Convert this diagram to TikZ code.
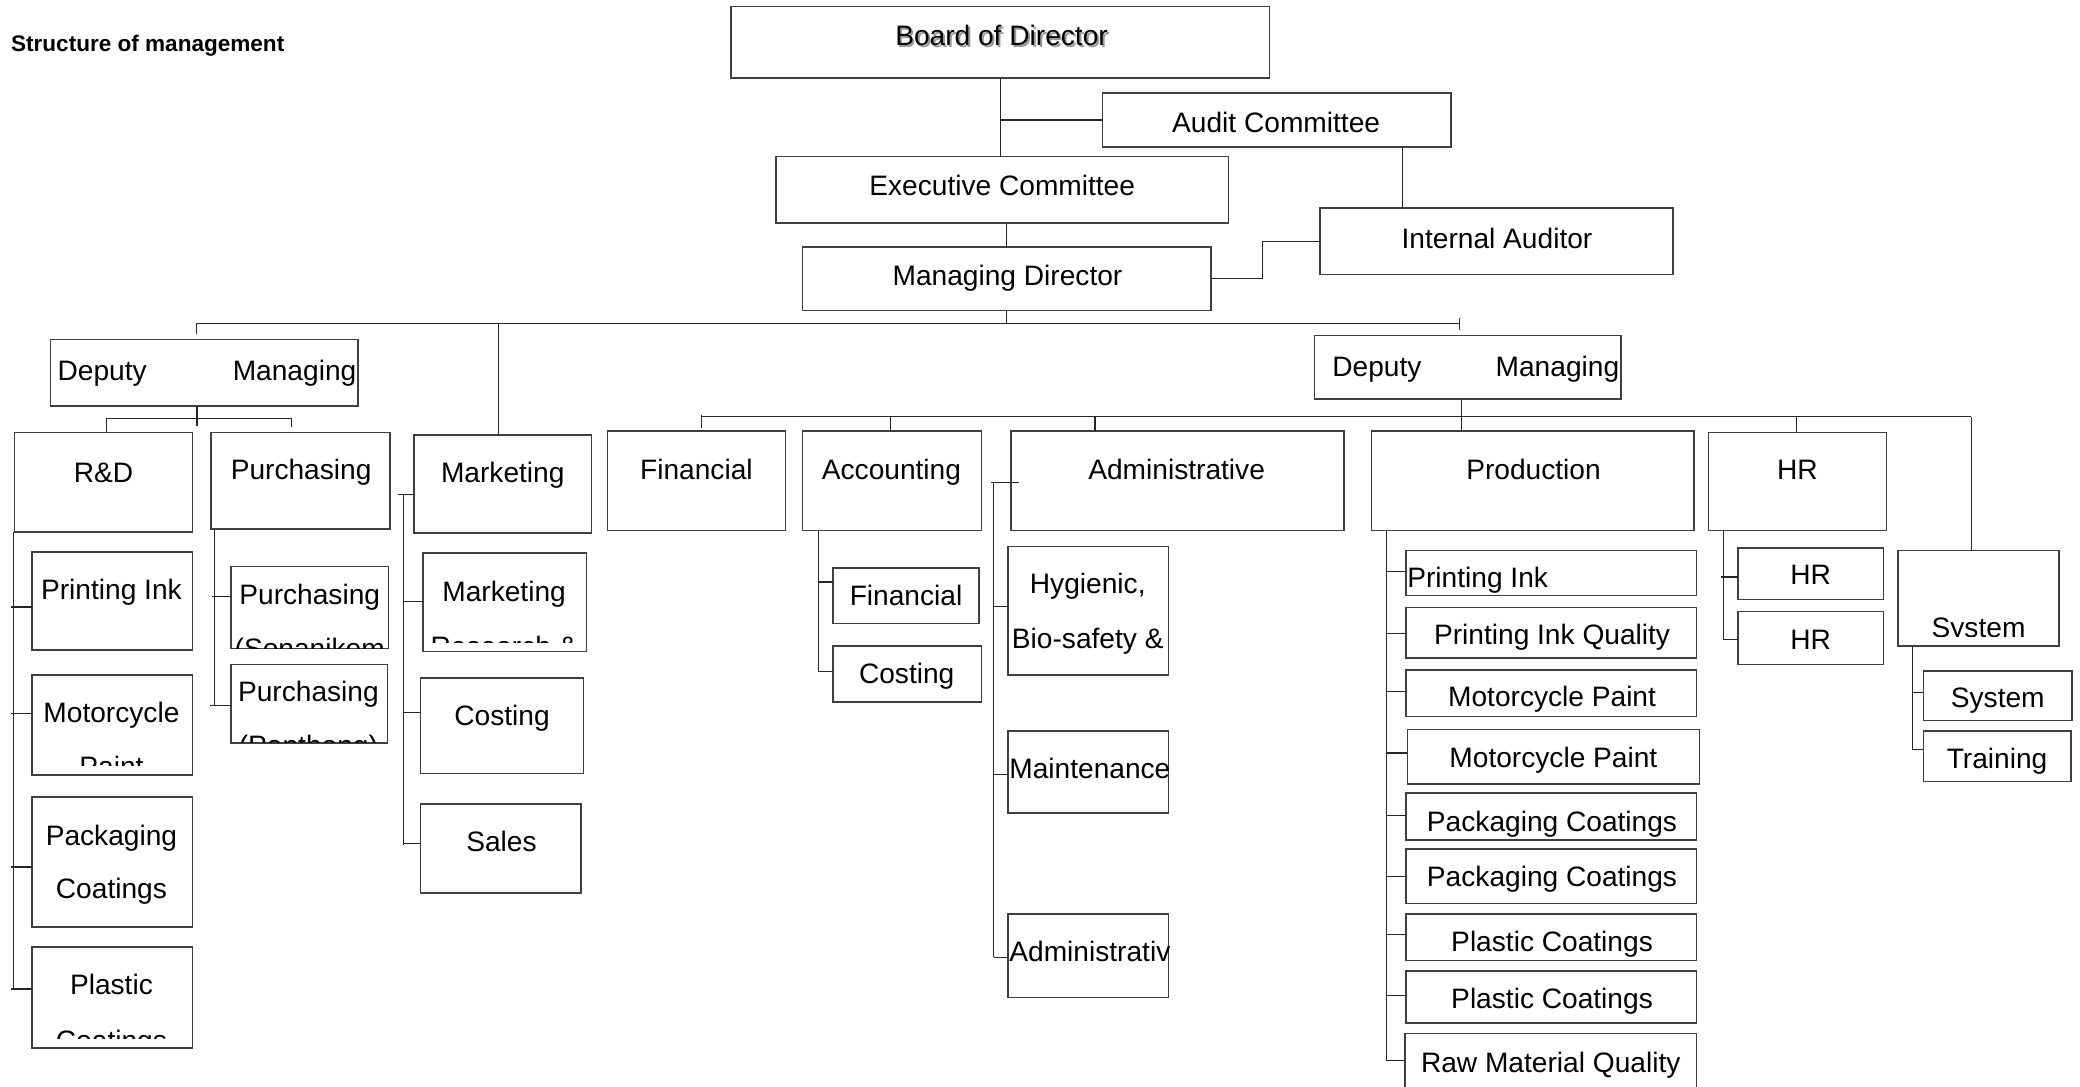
\documentclass[tikz,border=0pt]{standalone}
\usepackage{fontspec}
\setmainfont{Liberation Sans}
\usetikzlibrary{fit}
\newcommand\bx[5]{\node[box, fit={(#2,#3) (#4,#5)}] (#1) {};}
\newcommand\txC[4]{\node[txt] (#1) at (#2,#3) {#4};}
\newcommand\txL[4]{\node[txt, anchor=west] (#1) at (#2,#3) {#4};}
\newcommand\txR[4]{\node[txt, anchor=east] (#1) at (#2,#3) {#4};}
\begin{document}
\begin{tikzpicture}[x=0.5pt, y=-0.5pt,
  box/.style={draw=black!75, line width=0.6pt, inner sep=0pt, outer sep=0pt},
  ln/.style={draw=black!85, line width=0.45pt},
  txt/.style={inner sep=0pt, text height=7.59pt, text depth=0pt, font=\fontsize{10.6}{12}\selectfont, anchor=center},
  ttl/.style={inner sep=0pt, text height=6.1pt, text depth=0pt, font=\fontsize{8.5}{10}\selectfont\bfseries, anchor=west}]
\useasboundingbox (0,0) rectangle (1568,819);
\clip (0,0) rectangle (1568,819);

\node[ttl] (title) at (8,33) {Structure of management};

% ---------- boxes ----------
\bx{bod}{551}{5}{957}{59}
\bx{aud}{831}{70}{1094}{111}
\bx{exe}{585}{118}{926}{168}
\bx{md}{605}{186}{913}{234}
\bx{ia}{995}{157}{1261}{207}
\bx{dml}{38}{256}{270}{306}
\bx{dmr}{991}{253}{1222}{301}
\bx{rd}{11}{326}{145}{401}
\bx{pur}{159}{326}{294}{399}
\bx{mkt}{312}{328}{446}{402}
\bx{rd1}{24}{416}{145}{490}
\bx{rd2}{24}{509}{145}{584}
\bx{rd3}{24}{601}{145}{699}
\bx{rd4}{24}{714}{145}{790}
\bx{pu1}{174}{427}{293}{489}
\bx{pu2}{174}{501}{292}{560}
\bx{mk1}{319}{417}{442}{491}
\bx{mk2}{317}{511}{440}{583}
\bx{mk3}{317}{606}{438}{673}
\bx{fin}{458}{325}{592}{400}
\bx{acc}{605}{325}{740}{400}
\bx{adm}{762}{325}{1013}{400}
\bx{ac1}{628}{428}{738}{470}
\bx{ac2}{628}{487}{740}{529}
\bx{ad1}{760}{412}{881}{509}
\bx{ad2}{760}{551}{881}{613}
\bx{ad3}{760}{689}{881}{752}
\bx{pro}{1034}{325}{1277}{400}
\bx{hr}{1288}{326}{1422}{400}
\bx{sys}{1431}{415}{1552}{487}
\bx{pr1}{1060}{415}{1279}{449}
\bx{pr2}{1060}{458}{1279}{496}
\bx{pr3}{1060}{505}{1279}{540}
\bx{pr4}{1061}{550}{1281}{591}
\bx{pr5}{1060}{598}{1279}{633}
\bx{pr6}{1060}{640}{1279}{681}
\bx{pr7}{1060}{689}{1279}{724}
\bx{pr8}{1060}{732}{1279}{771}
\bx{pr9}{1059}{779}{1279}{850}
\bx{hr1}{1310}{413}{1420}{452}
\bx{hr2}{1310}{461}{1420}{501}
\bx{sy1}{1450}{506}{1562}{543}
\bx{sy2}{1450}{551}{1561}{589}

% ---------- connectors: top ----------
\coordinate (cA) at (1057,0);
\coordinate (cM) at (952,0);
\draw[ln] (bod.south) -- (bod.south |- exe.north);
\draw[ln] (aud.west) -- (aud.west -| bod.south);
\draw[ln] (aud.south -| cA) -- (ia.north -| cA);
\draw[ln] (exe.south -| md.north) -- (md.north);
\draw[ln] (md.east) -- (md.east -| cM) |- (ia.west);

% main bus
\coordinate (bL) at (148,244);
\coordinate (bR) at (1100,244);
\coordinate (cMk) at (376,0);
\draw[ln] (md.south) -- (md.south |- bL);
\draw[ln] (bL) -- (bR);
\draw[ln] (bL) -- ++(0,8);
\draw[ln] ([yshift=2pt]bR) -- ([yshift=-2.5pt]bR);
\draw[ln] (bL -| cMk) -- (mkt.north -| cMk);

% left deputy
\coordinate (b2) at (148.5,315.5);
\draw[ln] (dml.south -| b2) -- ++(0,15);
\draw[ln] (80,315.5) -- (220,315.5);
\draw[ln] (80,315.5) -- (rd.north -| 80,0);
\draw[ln] (220,315.5) -- (220,322);

% R&D children
\draw[ln] (10,401) -- (10,746);
\draw[ln] (8,457.6) -- (rd1.west |- 0,457.6);
\draw[ln] (8,538) -- (rd2.west |- 0,538);
\draw[ln] (8,653.6) -- (rd3.west |- 0,653.6);
\draw[ln] (8,745.6) -- (rd4.west |- 0,745.6);

% Purchasing children
\draw[ln] (pur.south -| 162,0) -- (162,532);
\draw[ln] (160,449.7) -- (pu1.west |- 0,449.7);
\draw[ln] (158,532) -- (pu2.west |- 0,532);

% Marketing children
\draw[ln] (300,373) -- (mkt.west |- 0,373);
\draw[ln] (304,373) -- (304,637);
\draw[ln] (304,453.7) -- (mk1.west |- 0,453.7);
\draw[ln] (304,537) -- (mk2.west |- 0,537);
\draw[ln] (304,635.6) -- (mk3.west |- 0,635.6);

% right deputy
\coordinate (b3) at (1102,314);
\draw[ln] (dmr.south -| b3) -- (pro.north -| b3);
\draw[ln] (529,314) -- (1486,314);
\draw[ln] (529,312.5) -- (529,323);
\draw[ln] (671,314) -- (acc.north -| 671,0);
\draw[ln] (825.5,314) -- (adm.north -| 825.5,0);
\draw[ln] (1354,314) -- (hr.north -| 1354,0);
\draw[ln] (1486,314) -- (sys.north -| 1486,0);

% Accounting children
\draw[ln] (acc.south -| 617,0) -- (617,506);
\draw[ln] (617,438.8) -- (ac1.west |- 0,438.8);
\draw[ln] (617,506) -- (ac2.west |- 0,506);

% Administrative children
\draw[ln] (747,364) -- (768,364);
\draw[ln] (749,364) -- (749,721.5);
\draw[ln] (749,457) -- (ad1.west |- 0,457);
\draw[ln] (749,583.6) -- (ad2.west |- 0,583.6);
\draw[ln] (749,721.5) -- (ad3.west |- 0,721.5);

% Production children
\draw[ln] (pro.south -| 1045,0) -- (1045,800);
\draw[ln] (1045,431) -- (pr1.west |- 0,431);
\draw[ln] (1045,477.5) -- (pr2.west |- 0,477.5);
\draw[ln] (1045,521) -- (pr3.west |- 0,521);
\draw[ln] (1045,567.6) -- (pr4.west |- 0,567.6);
\draw[ln] (1045,615) -- (pr5.west |- 0,615);
\draw[ln] (1045,661) -- (pr6.west |- 0,661);
\draw[ln] (1045,704.5) -- (pr7.west |- 0,704.5);
\draw[ln] (1045,750.4) -- (pr8.west |- 0,750.4);
\draw[ln] (1045,799.7) -- (pr9.west |- 0,799.7);

% HR children
\draw[ln] (hr.south -| 1299,0) -- (1299,482);
\draw[ln] (1297,435) -- (hr1.west |- 0,435);
\draw[ln] (1299,482) -- (hr2.west |- 0,482);

% System children
\draw[ln] (sys.south -| 1442,0) -- (1442,565);
\draw[ln] (1442,522) -- (sy1.west |- 0,522);
\draw[ln] (1442,565) -- (sy2.west |- 0,565);

% ---------- texts ----------
\node[txt, text=black!40] (t-bod-s) at (756.5,28.5) {Board of Director};
\txC{t-bod}{755}{27}{Board of Director}
\txC{t-aud}{962}{92}{Audit Committee}
\txC{t-exe}{755.5}{140}{Executive Committee}
\txC{t-md}{759.5}{208}{Managing Director}
\txC{t-ia}{1128.5}{180}{Internal Auditor}
\txL{t-dml1}{43}{279}{Deputy}
\txR{t-dml2}{269}{279}{Managing}
\txL{t-dmr1}{1004}{276}{Deputy}
\txR{t-dmr2}{1221}{276}{Managing}
\txC{t-rd}{78}{356}{R\&D}
\txC{t-pur}{227}{354}{Purchasing}
\txC{t-mkt}{379}{356}{Marketing}
\txC{t-rd1}{84}{444}{Printing Ink}
\txC{t-rd2}{84}{537}{Motorcycle}
\begin{scope}
\clip (rd2.north west) rectangle (rd2.east |- 0,577);
\txC{t-rd2b}{84}{578}{Paint}
\end{scope}
\txC{t-rd3}{84}{630}{Packaging}
\txC{t-rd3b}{84}{670}{Coatings}
\txC{t-rd4}{84}{742}{Plastic}
\begin{scope}
\clip (rd4.north west) rectangle (rd4.east |- 0,783);
\txC{t-rd4b}{84}{784}{Coatings}
\end{scope}
\txC{t-pu1}{233.5}{448}{Purchasing}
\begin{scope}
\clip (pu1.north west) rectangle (pu1.south east);
\txC{t-pu1b}{233.5}{489}{(Sonanikom}
\end{scope}
\txC{t-pu2}{232.5}{521}{Purchasing}
\begin{scope}
\clip (pu2.north west) rectangle (pu2.south east);
\txC{t-pu2b}{232.5}{562}{(Panthong)}
\end{scope}
\txC{t-mk1}{380}{446}{Marketing}
\begin{scope}
\clip (mk1.north west) rectangle (mk1.east |- 0,484);
\txC{t-mk1b}{380}{487}{Research \&}
\end{scope}
\txC{t-mk2}{378.5}{539}{Costing}
\txC{t-mk3}{378}{634}{Sales}
\txC{t-fin}{525}{354}{Financial}
\txC{t-acc}{672}{354}{Accounting}
\txC{t-adm}{887}{354}{Administrative}
\txC{t-ac1}{683}{449}{Financial}
\txC{t-ac2}{683.5}{508}{Costing}
\txC{t-ad1}{820}{440}{Hygienic,}
\txC{t-ad1b}{820}{481}{Bio-safety \&}
\txL{t-ad2}{760.5}{579}{Maintenance}
\txL{t-ad3}{760.5}{717}{Administrativ}
\txC{t-pro}{1156}{354}{Production}
\txC{t-hr}{1355}{354}{HR}
\begin{scope}
\clip (sys.north west) rectangle (sys.east |- 0,480);
\txC{t-sys}{1491.5}{473}{System}
\end{scope}
\txL{t-pr1}{1060.5}{435}{Printing Ink}
\txC{t-pr2}{1170}{478}{Printing Ink Quality}
\txC{t-pr3}{1170}{525}{Motorcycle Paint}
\txC{t-pr4}{1171}{571}{Motorcycle Paint}
\txC{t-pr5}{1170}{619}{Packaging Coatings}
\txC{t-pr6}{1170}{661}{Packaging Coatings}
\txC{t-pr7}{1170}{710}{Plastic Coatings}
\txC{t-pr8}{1170}{753}{Plastic Coatings}
\txC{t-pr9}{1169}{801}{Raw Material Quality}
\txC{t-hr1}{1365}{433}{HR}
\txC{t-hr2}{1365}{482}{HR}
\txC{t-sy1}{1506}{526}{System}
\txC{t-sy2}{1505.5}{572}{Training}
\end{tikzpicture}
\end{document}
